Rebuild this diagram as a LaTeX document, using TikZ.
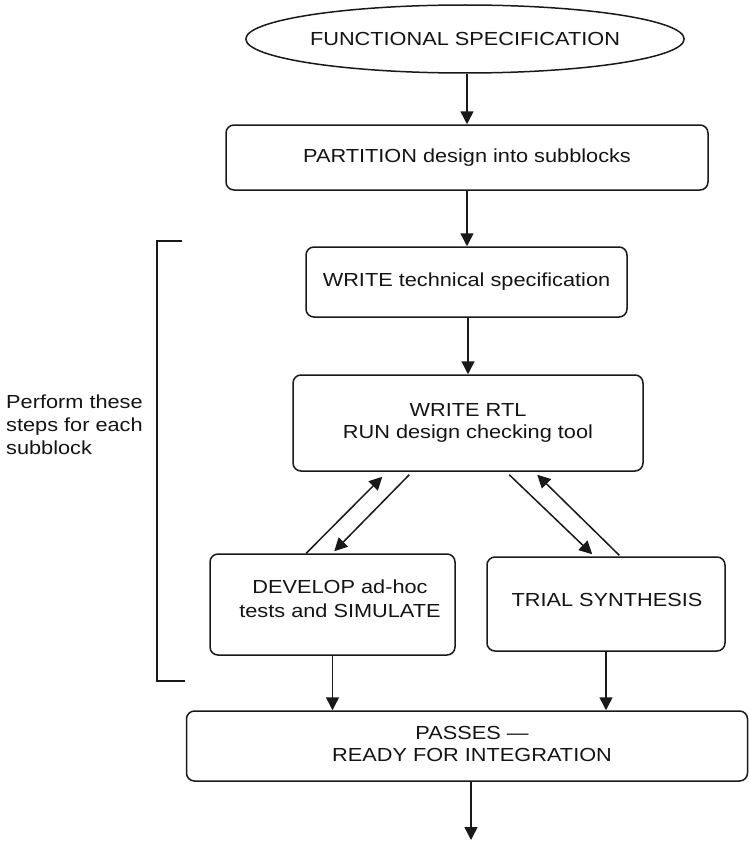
\documentclass[tikz,border=0pt]{standalone}
\usepackage{fontspec}
\setmainfont[FakeStretch=1.15]{Liberation Sans}
\usetikzlibrary{arrows.meta,shapes.geometric,calc}

\tikzset{
  ink/.style={draw=black!90, line width=1.5pt},
  boxfont/.style={font=\fontsize{18.9}{22}\selectfont, text=black!92},
  flowbox/.style={ink, boxfont, rectangle, rounded corners=8pt, inner sep=0pt, align=center},
  oval/.style={ink, boxfont, ellipse, inner sep=0pt},
  flow/.style={ink, -{Triangle[length=13pt,width=13pt]}},
  note/.style={boxfont, align=left, inner sep=0pt}
}

\begin{document}
\begin{tikzpicture}[x=1pt,y=-1pt]
  \useasboundingbox (0,0) rectangle (749,843);

  % process steps
  \node[oval, minimum width=425pt, minimum height=68pt] (spec) at (465,39) {FUNCTIONAL SPECIFICATION};
  \node[flowbox, minimum width=482pt, minimum height=65pt] (part) at (467,157.5) {PARTITION design into subblocks};
  \node[flowbox, minimum width=321pt, minimum height=70pt] (tech) at (466.5,282) {WRITE technical specification};
  \node[flowbox, minimum width=350pt, minimum height=96pt] (rtl) at (468,423) {WRITE RTL\\RUN design checking tool};
  \node[flowbox, minimum width=245pt, minimum height=101pt] (dev) at (332.5,604.5) {};
  \node[note, align=center, font=\fontsize{18.9}{24}\selectfont] (devtext) at (340,599) {DEVELOP ad-hoc\\tests and SIMULATE};
  \node[flowbox, minimum width=238pt, minimum height=94pt] (tri) at (606,604) {};
  \node[note] (tritext) at (607,600) {TRIAL SYNTHESIS};
  \node[flowbox, minimum width=561pt, minimum height=70pt] (pass) at (467,746) {};
  \node[note, align=center] (passtext) at (472,744) {PASSES ---\\READY FOR INTEGRATION};
  \coordinate (out) at (471,840);

  % main flow
  \draw[flow] (spec.south -| part.north) -- (part.north);
  \draw[flow] (part.south) -- (part.south |- tech.north);
  \draw[flow] (tech.south -| rtl.north) -- (rtl.north);

  % iteration between RTL and the two checks
  \draw[flow] ($(dev.north west)+(97,0)$) -- ($(rtl.south west)+(90,5)$);
  \draw[flow] ($(rtl.south west)+(117,3)$) -- ($(dev.north west)+(125,-2)$);
  \draw[flow] ($(rtl.south west)+(217,3)$) -- ($(tri.north west)+(106,-2)$);
  \draw[flow] ($(tri.north west)+(133,-1)$) -- ($(rtl.south west)+(245,3)$);

  % converge and exit
  \draw[flow] (dev.south) -- (dev.south |- pass.north);
  \draw[flow] (tri.south) -- (tri.south |- pass.north);
  \draw[flow] (pass.south -| out) -- (out);

  % bracket for the per-subblock steps
  \coordinate (bt) at (182,241);
  \coordinate (bb) at (185,681);
  \draw[ink] (bt) -- (157,241) -- (157,681) -- (bb);
  \node[note, anchor=west, font=\fontsize{18.9}{23}\selectfont] (perform) at (6,425) {Perform these\\steps for each\\subblock};
\end{tikzpicture}
\end{document}
